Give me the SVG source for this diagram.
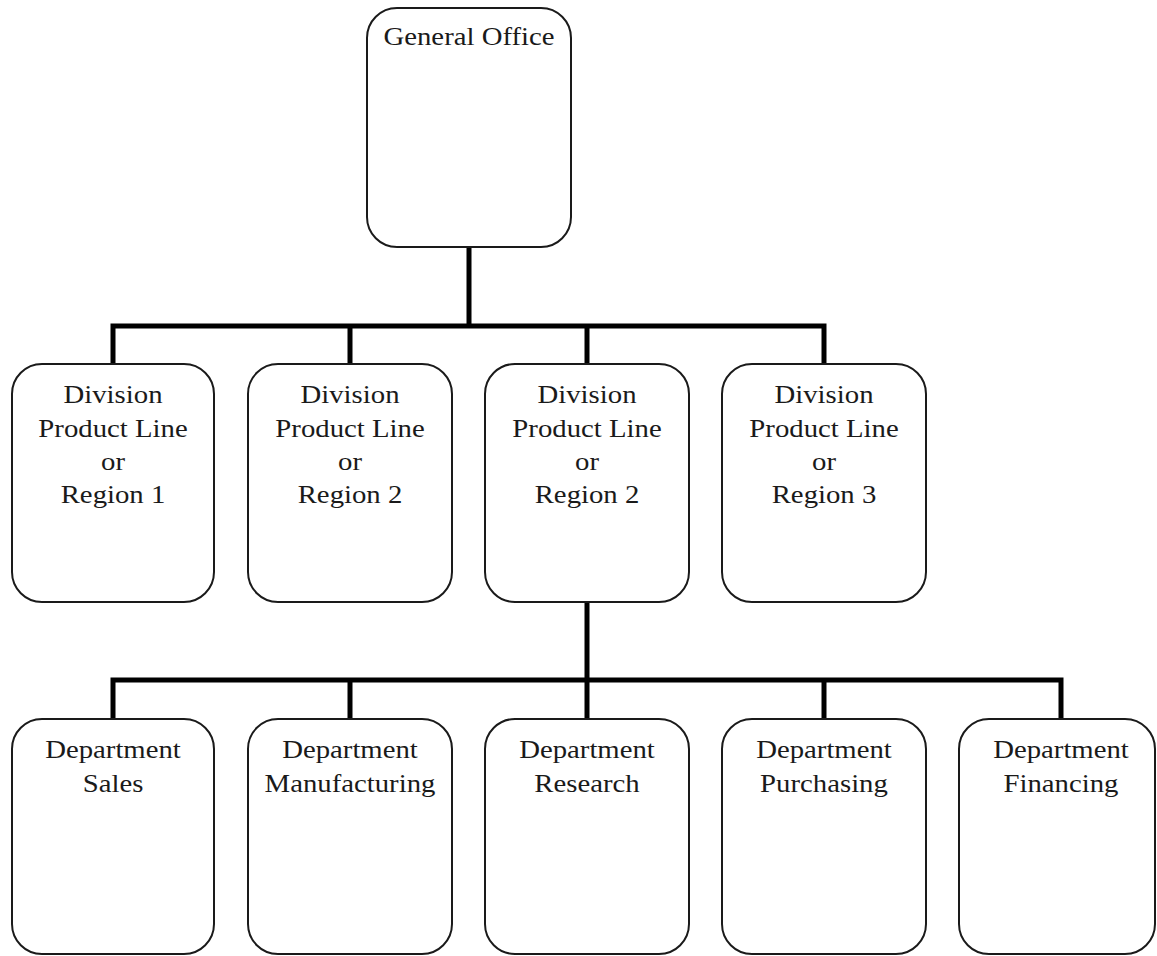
<svg xmlns="http://www.w3.org/2000/svg" width="1157" height="956" viewBox="0 0 1157 956">
<style>
.box{fill:#fff;stroke:#1a1a1a;stroke-width:2}
.conn{fill:none;stroke:#000;stroke-width:5}
.t{font-family:"Liberation Serif","Times New Roman",serif;font-size:25px;fill:#1a1a1a;text-anchor:middle}
</style>
<rect width="1157" height="956" fill="#fff"/>
<g id="connectors">
<path class="conn" d="M469 247V326M113 366V326H824V366M350 326V366M587 326V366"/>
<path class="conn" d="M587 602V680M113 721V680H1061V721M350 680V721M824 680V721M587 680V721"/>
</g>
<g id="general-office">
<rect class="box" x="367" y="8" width="204" height="239" rx="30"/>
<g transform="translate(469,0) scale(1.15,1)"><text class="t" x="0" y="45">General Office</text></g>
</g>
<g id="division-1">
<rect class="box" x="12" y="364" width="202" height="238" rx="30"/>
<g transform="translate(113,0) scale(1.15,1)"><text class="t" x="0" y="403">Division</text><text class="t" x="0" y="437">Product Line</text><text class="t" x="0" y="470">or</text><text class="t" x="0" y="503">Region 1</text></g>
</g>
<g id="division-2">
<rect class="box" x="248" y="364" width="204" height="238" rx="30"/>
<g transform="translate(350,0) scale(1.15,1)"><text class="t" x="0" y="403">Division</text><text class="t" x="0" y="437">Product Line</text><text class="t" x="0" y="470">or</text><text class="t" x="0" y="503">Region 2</text></g>
</g>
<g id="division-3">
<rect class="box" x="485" y="364" width="204" height="238" rx="30"/>
<g transform="translate(587,0) scale(1.15,1)"><text class="t" x="0" y="403">Division</text><text class="t" x="0" y="437">Product Line</text><text class="t" x="0" y="470">or</text><text class="t" x="0" y="503">Region 2</text></g>
</g>
<g id="division-4">
<rect class="box" x="722" y="364" width="204" height="238" rx="30"/>
<g transform="translate(824,0) scale(1.15,1)"><text class="t" x="0" y="403">Division</text><text class="t" x="0" y="437">Product Line</text><text class="t" x="0" y="470">or</text><text class="t" x="0" y="503">Region 3</text></g>
</g>
<g id="dept-sales">
<rect class="box" x="12" y="719" width="202" height="235" rx="30"/>
<g transform="translate(113,0) scale(1.15,1)"><text class="t" x="0" y="758">Department</text><text class="t" x="0" y="792">Sales</text></g>
</g>
<g id="dept-manufacturing">
<rect class="box" x="248" y="719" width="204" height="235" rx="30"/>
<g transform="translate(350,0) scale(1.15,1)"><text class="t" x="0" y="758">Department</text><text class="t" x="0" y="792">Manufacturing</text></g>
</g>
<g id="dept-research">
<rect class="box" x="485" y="719" width="204" height="235" rx="30"/>
<g transform="translate(587,0) scale(1.15,1)"><text class="t" x="0" y="758">Department</text><text class="t" x="0" y="792">Research</text></g>
</g>
<g id="dept-purchasing">
<rect class="box" x="722" y="719" width="204" height="235" rx="30"/>
<g transform="translate(824,0) scale(1.15,1)"><text class="t" x="0" y="758">Department</text><text class="t" x="0" y="792">Purchasing</text></g>
</g>
<g id="dept-financing">
<rect class="box" x="959" y="719" width="196" height="235" rx="30"/>
<g transform="translate(1061,0) scale(1.15,1)"><text class="t" x="0" y="758">Department</text><text class="t" x="0" y="792">Financing</text></g>
</g>
</svg>
